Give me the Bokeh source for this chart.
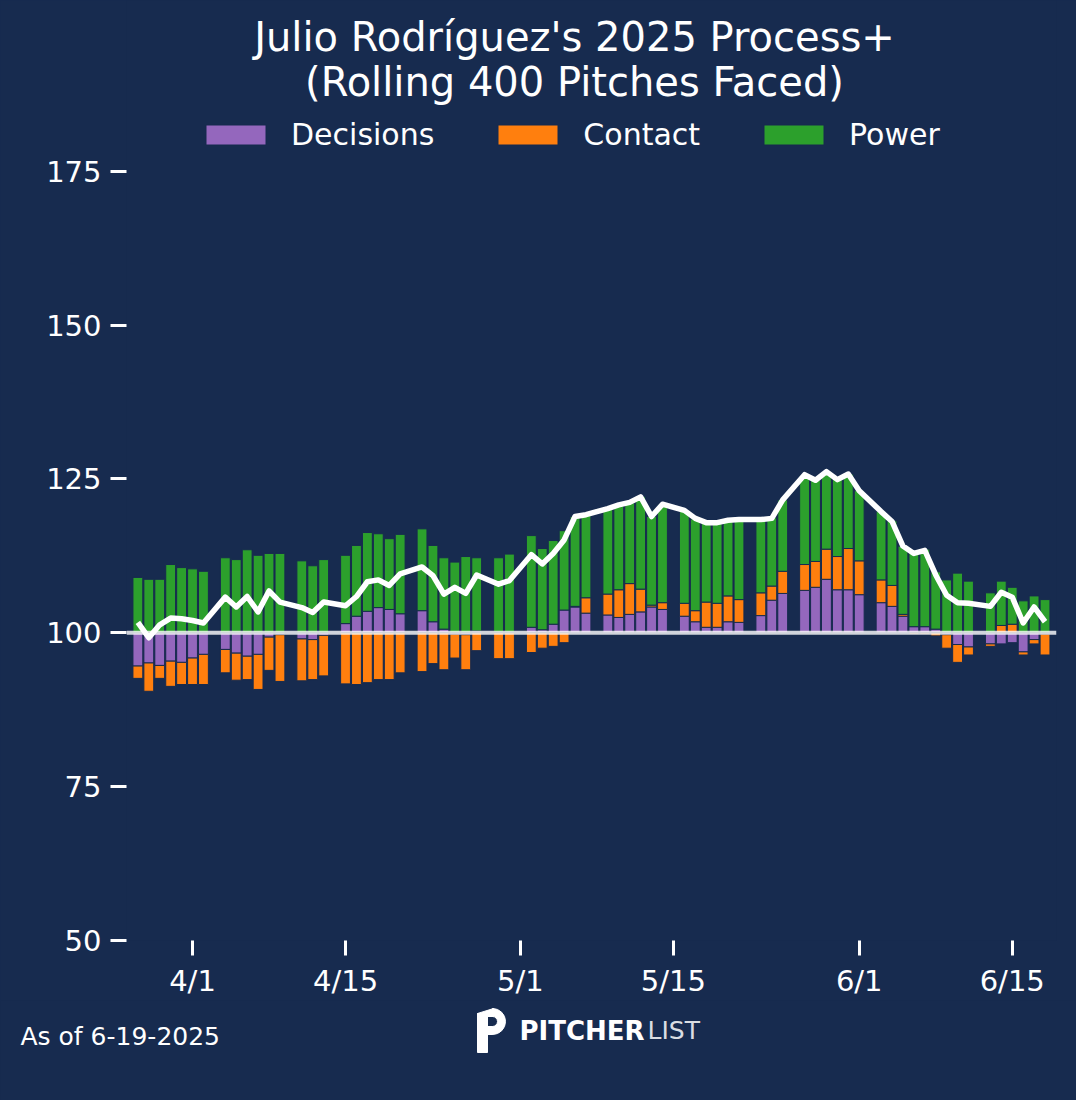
import numpy as np
import pandas as pd
from bokeh.plotting import figure
from bokeh.layouts import column
from bokeh.models import (ColumnDataSource, Range1d, FixedTicker, Span, Label,
                          Legend, LegendItem)
from bokeh.embed import file_html
from bokeh.resources import INLINE

# colores
BG = "#172b4f"
C_DEC = "#9467bd"
C_CON = "#ff7f0e"
C_POW = "#2ca02c"

# datos: un valor por partido (rolling 400 pitches), desviacion respecto a 100
game_dates = ["3/27", "3/28", "3/29", "3/30", "3/31", "4/1", "4/2",
              "4/4", "4/5", "4/6", "4/7", "4/8", "4/9",
              "4/11", "4/12", "4/13",
              "4/15", "4/16", "4/17", "4/18", "4/19", "4/20",
              "4/22", "4/23", "4/24", "4/25", "4/26", "4/27",
              "4/29", "4/30",
              "5/2", "5/3", "5/4", "5/5", "5/6", "5/7",
              "5/9", "5/10", "5/11", "5/12", "5/13", "5/14",
              "5/16", "5/17", "5/18", "5/19", "5/20", "5/21",
              "5/23", "5/24", "5/25",
              "5/27", "5/28", "5/29", "5/30", "5/31", "6/1",
              "6/3", "6/4", "6/5", "6/6", "6/7", "6/8", "6/9", "6/10", "6/11",
              "6/13", "6/14", "6/15", "6/16", "6/17", "6/18"]

decisions = [-5.4, -4.9, -5.3, -4.6, -4.8, -4.1, -3.5,
             -2.7, -3.3, -3.8, -3.5, -0.7, -0.3,
             -1.0, -1.1, -0.4,
             1.5, 2.7, 3.5, 4.1, 3.8, 3.1,
             3.6, 1.8, 0.6, -0.2, -0.3, 0.3,
             0.1, 0.1,
             0.9, 0.5, 1.4, 3.7, 4.2, 3.2,
             2.9, 2.5, 3.0, 3.4, 4.2, 3.8,
             2.7, 1.8, 0.9, 0.9, 1.8, 1.7,
             2.8, 5.3, 6.4,
             6.9, 7.4, 8.7, 7.0, 7.0, 6.2,
             4.9, 4.3, 2.7, 1.0, 1.0, 0.6, -0.3, -1.9, -2.3,
             -1.8, -1.8, -1.6, -3.1, -1.1, -0.2]

contact = [-2.0, -4.6, -2.1, -4.1, -3.6, -4.3, -4.9,
           -3.8, -4.4, -3.8, -5.7, -5.4, -7.6,
           -6.8, -6.5, -6.6,
           -8.3, -8.4, -8.1, -7.6, -7.6, -6.5,
           -6.3, -5.0, -6.0, -3.9, -5.7, -2.9,
           -4.2, -4.2,
           -3.2, -2.5, -2.2, -1.6, 0.1, 2.5,
           3.4, 4.5, 5.0, 3.7, 0.3, 1.1,
           2.1, 1.8, 4.1, 3.9, 4.2, 3.7,
           3.7, 2.3, 3.6,
           4.2, 4.2, 4.9, 5.4, 6.7, 5.5,
           3.7, 3.4, 0.3, -0.2, -0.2, -0.5, -2.2, -2.9, -1.3,
           -0.4, 1.2, 1.4, -0.5, -0.7, -3.4]

power = [9.0, 8.7, 8.7, 11.1, 10.6, 10.4, 10.0,
         12.2, 11.9, 13.5, 12.6, 12.9, 12.9,
         11.7, 10.9, 11.9,
         11.1, 11.5, 12.8, 12.0, 11.5, 12.9,
         13.3, 12.4, 11.6, 11.5, 12.4, 11.9,
         12.1, 12.7,
         14.9, 13.2, 13.6, 12.9, 14.6, 13.5,
         13.9, 13.8, 13.1, 15.0, 14.4, 15.9,
         15.1, 14.9, 13.0, 13.1, 12.3, 13.0,
         12.0, 11.1, 11.6,
         14.5, 13.2, 12.6, 12.5, 12.1, 11.4,
         11.1, 10.5, 11.1, 12.1, 12.6, 9.3, 8.6, 9.7, 8.4,
         6.5, 7.2, 6.0, 5.2, 6.0, 5.4]

process_plus = [101.7, 99.2, 101.3, 102.4, 102.3, 102.0, 101.6,
                105.8, 104.2, 105.9, 103.4, 106.8, 105.0,
                104.1, 103.3, 105.0,
                104.4, 105.9, 108.3, 108.6, 107.7, 109.6,
                110.7, 109.3, 106.3, 107.4, 106.4, 109.4,
                107.9, 108.5,
                112.7, 111.2, 112.9, 115.1, 118.9, 119.2,
                120.2, 120.8, 121.2, 122.1, 118.9, 120.9,
                119.9, 118.6, 117.9, 117.9, 118.3, 118.4,
                118.4, 118.6, 121.6,
                125.7, 124.8, 126.2, 124.9, 125.8, 123.1,
                119.7, 118.1, 114.1, 112.9, 113.4, 109.4, 106.1, 104.9, 104.8,
                104.3, 106.6, 105.8, 101.6, 104.2, 101.8]

tick_labels = ["4/1", "4/15", "5/1", "5/15", "6/1", "6/15"]
y_ticks = [50, 75, 100, 125, 150, 175]

# eje x en dias desde el 1 de abril
day0 = pd.Timestamp("2025-04-01")
x = (pd.to_datetime(["2025/" + d for d in game_dates]) - day0).days.values
tick_x = [int(v) for v in (pd.to_datetime(["2025/" + d for d in tick_labels]) - day0).days]

# barras divergentes apiladas desde 100
data = dict(x=x)
pos = np.zeros(len(x))
neg = np.zeros(len(x))
for name, vals in (("dec", decisions), ("con", contact), ("pow", power)):
    v = np.array(vals, dtype=float)
    data[name + "_bot"] = np.where(v >= 0, 100 + pos, 100 + neg + v)
    data[name + "_top"] = np.where(v >= 0, 100 + pos + v, 100 + neg)
    pos += np.clip(v, 0, None)
    neg += np.clip(v, None, 0)
src = ColumnDataSource(data)

# el marco llega hasta arriba del lienzo para que titulo y leyenda no se recorten
X0, X1 = -6.04, 79.05
Y0, Y1 = 50, 202.76
p = figure(width=1076, height=1000,
           x_range=Range1d(X0, X1), y_range=Range1d(Y0, Y1),
           output_backend="svg", toolbar_location=None,
           background_fill_color=BG, border_fill_color=BG,
           outline_line_color=None,
           min_border_left=126, min_border_right=20,
           min_border_top=0, min_border_bottom=59)
p.grid.visible = False

for ax in (p.xaxis, p.yaxis):
    ax.axis_line_color = None
    ax.major_tick_line_color = "white"
    ax.major_tick_line_width = 3
    ax.major_tick_in = 0
    ax.major_tick_out = 15
    ax.minor_tick_line_color = None
    ax.major_label_text_color = "white"
    ax.major_label_text_font = "DejaVu Sans"
    ax.major_label_text_font_size = "29px"

p.xaxis.ticker = FixedTicker(ticks=tick_x)
p.xaxis.major_label_overrides = {t: lab for t, lab in zip(tick_x, tick_labels)}
p.xaxis.major_label_standoff = 8
p.yaxis.ticker = FixedTicker(ticks=y_ticks)
p.yaxis.major_tick_out = 16
p.yaxis.major_label_standoff = 9

bar_kw = dict(x="x", width=0.9, source=src, line_color=BG, line_width=1)
r_dec = p.vbar(bottom="dec_bot", top="dec_top", fill_color=C_DEC, **bar_kw)
r_con = p.vbar(bottom="con_bot", top="con_top", fill_color=C_CON, **bar_kw)
r_pow = p.vbar(bottom="pow_bot", top="pow_top", fill_color=C_POW, **bar_kw)

p.add_layout(Span(location=100, dimension="width", line_color="white",
                  line_alpha=0.8, line_width=4))

p.line(x, process_plus, line_color="white", line_width=5.5,
       line_join="round", level="overlay")

legend = Legend(items=[LegendItem(label="Decisions", renderers=[r_dec]),
                       LegendItem(label="Contact", renderers=[r_con]),
                       LegendItem(label="Power", renderers=[r_pow])],
                orientation="horizontal", location=(72, 788),
                glyph_width=75, glyph_height=25, label_standoff=18,
                spacing=56, padding=0, margin=0,
                background_fill_alpha=0, border_line_color=None,
                label_text_color="white", label_text_font="DejaVu Sans",
                label_text_font_size="30px")
p.add_layout(legend)

# posiciones de pixel (pagina) a unidades de datos del marco
def dx(px):
    return X0 + (px - 126) / 930 * (X1 - X0)

def dy(py):
    return Y0 + (941 - py) / 941 * (Y1 - Y0)

def label(fig, text, x, y, size, align="center", font="DejaVu Sans",
          style="normal", alpha=1.0):
    fig.add_layout(Label(x=x, y=y, text=text, text_align=align,
                         text_baseline="alphabetic", text_color="white",
                         text_alpha=alpha, text_font=font,
                         text_font_size=size, text_font_style=style))

label(p, "Julio Rodríguez's 2025 Process+", dx(574), dy(37), "40px")
label(p, "(Rolling 400 Pitches Faced)", dx(574), dy(82), "40px")

# pie de pagina: figura aparte, coordenadas = pixeles de la pagina
foot = figure(width=1076, height=100,
              x_range=Range1d(0, 1076), y_range=Range1d(1100, 1000),
              output_backend="svg", toolbar_location=None,
              background_fill_color=BG, border_fill_color=BG,
              outline_line_color=None, x_axis_location=None,
              y_axis_location=None, min_border=0)
foot.grid.visible = False
if "frame_align" in foot.properties():
    foot.frame_align = False
    p.frame_align = False

label(foot, "As of 6-19-2025", 20, 1036, "25px", align="left")

# logotipo: la "P" dibujada con formas
foot.patch([477, 493, 493, 477], [1013, 1008, 1016, 1016], color="white")
foot.quad(left=477, right=487, top=1013, bottom=1052, color="white")
foot.quad(left=486, right=492, top=1026, bottom=1034, color="white")
foot.annular_wedge(x=492, y=1021, inner_radius=5, outer_radius=13,
                   start_angle=-np.pi / 2, end_angle=np.pi / 2, color="white")
label(foot, "PITCHER", 644, 1030, "26px", align="right", style="bold")
label(foot, "LIST", 647, 1030, "25px", align="left", alpha=0.85)

page = column(p, foot, spacing=0, styles={"background-color": BG})
open("out.html", "w").write(file_html(page, INLINE))
